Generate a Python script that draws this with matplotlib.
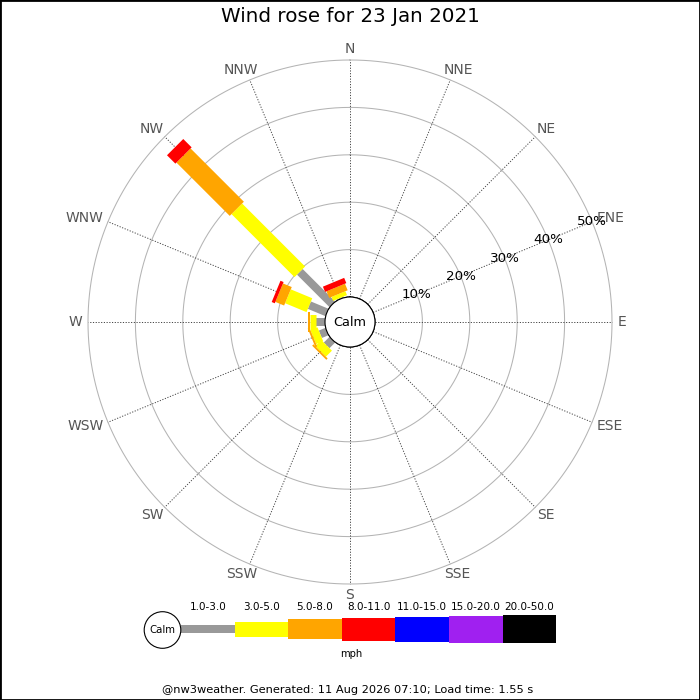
import numpy as np
import matplotlib
matplotlib.use("Agg")
import matplotlib.pyplot as plt
from matplotlib.patches import Circle, Rectangle
from matplotlib.transforms import offset_copy

# ---------------- data ----------------
directions = ["N", "NNE", "NE", "ENE", "E", "ESE", "SE", "SSE",
              "S", "SSW", "SW", "WSW", "W", "WNW", "NW", "NNW"]
speed_bins = ["1.0-3.0", "3.0-5.0", "5.0-8.0", "8.0-11.0",
              "11.0-15.0", "15.0-20.0", "20.0-50.0"]
bin_colors = ["#999999", "#ffff00", "#ffa500", "#ff0000",
              "#0000ff", "#a020f0", "#000000"]
# percentage of time per direction (rows) and speed bin (columns)
freq = {
    "SW":  [1.7, 1.8, 0.4, 0.0, 0.0, 0.0, 0.0],
    "WSW": [1.5, 1.6, 0.4, 0.0, 0.0, 0.0, 0.0],
    "W":   [2.0, 1.1, 0.4, 0.0, 0.0, 0.0, 0.0],
    "WNW": [4.0, 4.9, 2.0, 0.7, 0.0, 0.0, 0.0],
    "NW":  [9.7, 18.8, 15.9, 2.5, 0.0, 0.0, 0.0],
    "NNW": [0.2, 0.9, 1.5, 1.2, 0.0, 0.0, 0.0],
}
ring_values = [10, 20, 30, 40, 50]
title = "Wind rose for 23 Jan 2021"
footer = "@nw3weather. Generated: 11 Aug 2026 07:10; Load time: 1.55 s"

# ---------------- layout / style ----------------
W = H = 700
DPI = 100
CX, CY = 350, 322          # rose centre (px, y down)
CALM_PX = 25
RING_PX = 262
RMAX = 50
scale = (RING_PX - CALM_PX) / RMAX
rorigin = -CALM_PX / scale
bar_px = [8, 15, 20, 23, 25, 27, 28]
px2pt = 72 / DPI

fig = plt.figure(figsize=(W / DPI, H / DPI), dpi=DPI)
fig.patch.set_facecolor("white")

ax = fig.add_axes([(CX - RING_PX) / W, (H - CY - RING_PX) / H,
                   2 * RING_PX / W, 2 * RING_PX / H], projection="polar")
ax.set_theta_zero_location("N")
ax.set_theta_direction(-1)
ax.set_ylim(0, RMAX)
ax.set_rorigin(rorigin)
ax.set_xticks([])
ax.set_yticks([])
ax.grid(False)
for sp in ax.spines.values():
    sp.set_visible(False)
ax.patch.set_alpha(0)

thetas = np.deg2rad(np.arange(16) * 22.5)
full = np.linspace(0, 2 * np.pi, 721)

# rings
for rv in ring_values:
    ax.plot(full, np.full_like(full, rv), color="#b4b4b4", lw=0.75,
            zorder=1, clip_on=False)
# spokes
for th in thetas:
    ax.plot([th, th], [0, RMAX], color="#444444", lw=0.7,
            ls=(0, (1.2, 1.6)), zorder=1.5, clip_on=False)

# bars
z = 3
for d, th in zip(directions, thetas):
    if d not in freq:
        continue
    cum = 0.0
    for j, v in enumerate(freq[d]):
        if v <= 0:
            continue
        ax.plot([th, th], [cum, cum + v], color=bin_colors[j],
                lw=bar_px[j] * px2pt, solid_capstyle="butt", zorder=z,
                clip_on=False)
        cum += v
    z += 0.1

# calm circle
ax.add_patch(Circle((0.5, 0.5), CALM_PX / (2 * RING_PX), transform=ax.transAxes,
                    facecolor="white", edgecolor="black", lw=0.8, zorder=10,
                    clip_on=False))
ax.text(0.5, 0.5, "Calm", transform=ax.transAxes, ha="center", va="center",
        fontsize=9.3, zorder=11)

# direction labels: anchored just outside the outer ring, pushed outward
lab_r = 268 / scale + rorigin
CAP_PX = 10
renderer = fig.canvas.get_renderer()
for d, th in zip(directions, thetas):
    t = ax.text(th, lab_r, d, ha="center", va="center", fontsize=10,
                color="#555555", clip_on=False, zorder=12)
    bb = t.get_window_extent(renderer)
    dx = np.sin(th) * bb.width / 2
    dy = np.cos(th) * CAP_PX / 2
    t.set_transform(offset_copy(ax.transData, fig=fig, x=dx, y=dy, units="dots"))

# ring labels along ENE
for rv in ring_values:
    ax.text(np.deg2rad(67.5), rv, f"{rv}%", ha="center", va="center",
            fontsize=9.7, color="black", zorder=13, clip_on=False)

# ---------------- legend (pixel axes) ----------------
lx = fig.add_axes([0, 0, 1, 1])
lx.set_xlim(0, W)
lx.set_ylim(H, 0)
lx.axis("off")
lx.patch.set_alpha(0)

LEG_X0, LEG_W, LEG_Y = 181, 53.6, 629
xs = LEG_X0 + LEG_W * (np.arange(len(speed_bins)) + 0.5)
hs = np.array(bar_px, dtype=float)
lx.bar(xs, hs, width=LEG_W, bottom=LEG_Y - hs / 2, color=bin_colors,
       linewidth=0, zorder=2)
for x, lab in zip(xs, speed_bins):
    lx.text(x, 607, lab, ha="center", va="center", fontsize=7.5)
lx.add_patch(Circle((162.5, 630), 18.3, facecolor="white", edgecolor="black",
                    lw=0.8, zorder=3))
lx.text(162.5, 630, "Calm", ha="center", va="center", fontsize=7.3, zorder=4)
lx.text(351, 654, "mph", ha="center", va="center", fontsize=7.2)
lx.text(348, 690, footer, ha="center", va="center", fontsize=8.2)

fig.text(0.5, 1 - 17 / H, title, ha="center", va="center", fontsize=14.3)

fig.patches.append(Rectangle((0, 0), 1, 1, transform=fig.transFigure,
                             fill=False, edgecolor="black", lw=2.0))

fig.savefig("out.png", dpi=DPI, facecolor="white")
